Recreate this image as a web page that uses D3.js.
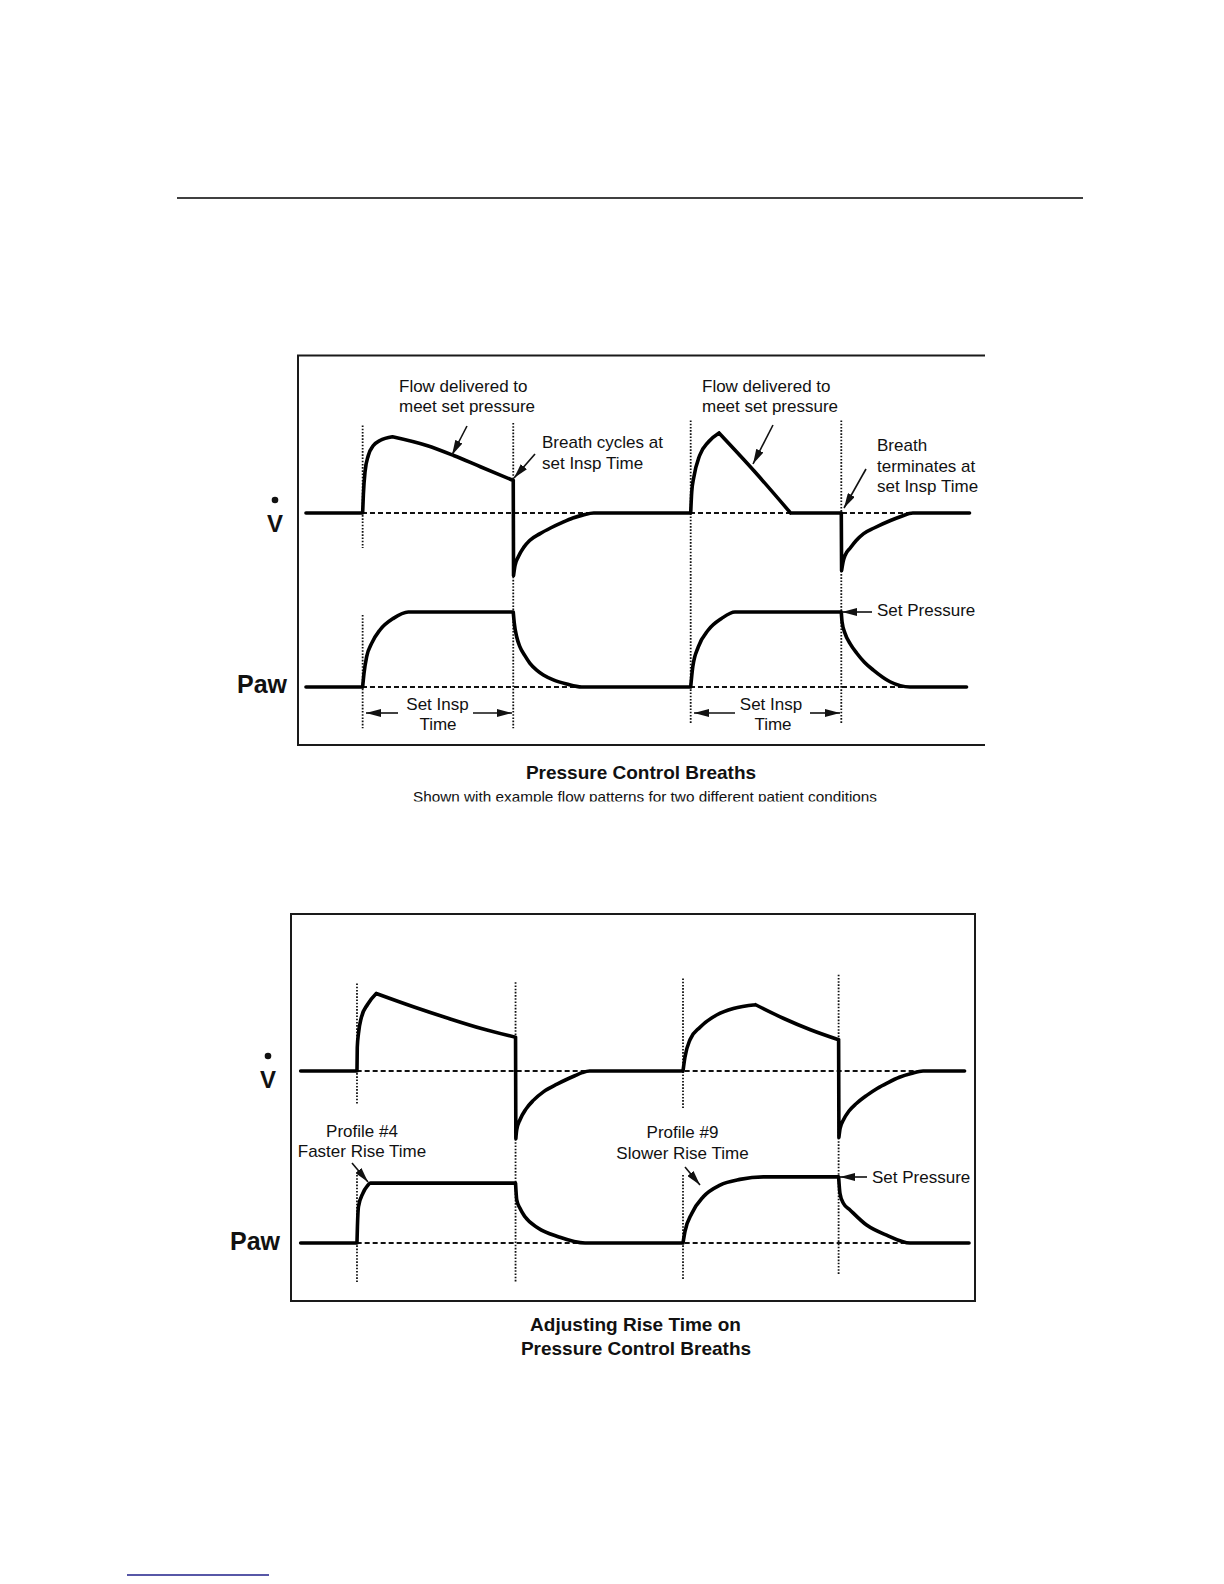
<!DOCTYPE html>
<html>
<head>
<meta charset="utf-8">
<script src="https://cdn.jsdelivr.net/npm/d3@7"></script>
<style>
body { margin: 0; background: #fff; }
svg { display: block; }
text { font-family: "Liberation Sans", Arial, sans-serif; fill: #111; }
.trace { fill: none; stroke: #000; stroke-width: 3.6; stroke-linejoin: round; stroke-linecap: round; }
.dash { stroke: #111; stroke-width: 1.8; stroke-dasharray: 5,3; }
.dot { stroke: #111; stroke-width: 1.8; stroke-dasharray: 1.6,1.6; }
.frame { stroke: #1a1a1a; stroke-width: 2; fill: none; }
.arrow { stroke: #111; stroke-width: 1.6; }
</style>
</head>
<body>
<div id="chart"></div>
<script>
/* Pressure control breath waveforms
   each trace is a list of pieces, a piece is a list of [time (s), value]
   flow in L/min, Paw in cmH2O
*/

// upper figure: two patient conditions
var topFlow = [
  [[0.02, 0], [0.40, 0]],
  [[0.40, 0], [0.405, 15], [0.416, 33], [0.438, 46], [0.472, 54], [0.516, 58], [0.60, 61]],
  [[0.60, 61], [0.83, 54], [1.01, 46], [1.19, 37], [1.41, 26]],
  [[1.41, 26], [1.412, -50]],
  [[1.412, -50], [1.422, -42], [1.444, -35], [1.48, -27.5], [1.52, -22], [1.59, -16.5], [1.66, -12],
   [1.74, -7.5], [1.81, -4], [1.88, -1.5], [1.95, 0], [2.60, 0]],
  [[2.60, 0], [2.607, 17], [2.62, 28], [2.66, 46], [2.72, 57], [2.79, 64]],
  [[2.79, 64], [3.03, 33], [3.27, 0]],
  [[3.27, 0], [3.61, 0]],
  [[3.61, 0], [3.612, -46]],
  [[3.612, -46], [3.624, -38], [3.635, -34], [3.67, -28], [3.71, -22], [3.76, -16.5], [3.83, -12],
   [3.94, -6], [4.01, -2.8], [4.09, 0], [4.47, 0]]
];
var topPaw = [
  [[0.02, 0], [0.40, 0]],
  [[0.40, 0], [0.409, 3.6], [0.427, 8.1], [0.461, 11.7], [0.516, 15.2], [0.606, 18.3], [0.706, 20], [1.41, 20]],
  [[1.41, 20], [1.417, 17], [1.433, 13.4], [1.455, 10.7], [1.489, 8.3], [1.522, 6.3], [1.567, 4.5],
   [1.612, 3.2], [1.679, 1.9], [1.768, 0.8], [1.869, 0], [2.60, 0]],
  [[2.60, 0], [2.614, 5.4], [2.651, 10.7], [2.718, 15.2], [2.808, 18.3], [2.897, 20], [3.61, 20]],
  [[3.61, 20], [3.615, 17.4], [3.635, 14.3], [3.67, 11.5], [3.714, 9], [3.765, 6.6], [3.825, 4.5],
   [3.937, 1.4], [4.071, 0], [4.45, 0]]
];
// breath start / end (set Insp Time) markers
var topGuides = [
  { t: 0.40, top: 70, gapFrom: -28, gapTo: 19.2, bottom: -11 },
  { t: 1.41, top: 72, bottom: -11 },
  { t: 2.60, top: 74, bottom: -9.6 },
  { t: 3.61, top: 74, bottom: -9.6 }
];

// lower figure: rise time profile #4 vs #9
var botFlow = [
  [[0.02, 0], [0.40, 0]],
  [[0.40, 0], [0.402, 19], [0.41, 30], [0.43, 43], [0.47, 53], [0.53, 62]],
  [[0.53, 62], [0.79, 51], [1.02, 42], [1.24, 34], [1.47, 27]],
  [[1.47, 27], [1.472, -54]],
  [[1.472, -54], [1.478, -47], [1.50, -39], [1.54, -30.5], [1.59, -23.5], [1.66, -16.5], [1.75, -10.5],
   [1.81, -7], [1.87, -3.8], [1.92, -1.3], [1.97, 0], [2.60, 0]],
  [[2.60, 0], [2.613, 11], [2.647, 25], [2.715, 35], [2.83, 45], [2.94, 50], [3.09, 53]],
  [[3.09, 53], [3.28, 42], [3.46, 33], [3.65, 25]],
  [[3.65, 25], [3.652, -53]],
  [[3.652, -53], [3.66, -46], [3.683, -39], [3.72, -32], [3.77, -26], [3.84, -19.5], [3.91, -14],
   [3.98, -9.5], [4.06, -5], [4.14, -2], [4.22, 0], [4.50, 0]]
];
var botPaw = [
  [[0.02, 0], [0.40, 0]],
  [[0.40, 0], [0.403, 5.2], [0.41, 11.5], [0.44, 15.8], [0.47, 18.1], [0.49, 19], [1.47, 19]],
  [[1.47, 19], [1.478, 13.7], [1.50, 11], [1.534, 8.3], [1.624, 4.7], [1.758, 2], [1.939, 0], [2.60, 0]],
  [[2.60, 0], [2.613, 3.6], [2.659, 9.4], [2.737, 14.7], [2.85, 18.4], [2.984, 20.2], [3.142, 21], [3.65, 21]],
  [[3.65, 21], [3.659, 15.8], [3.682, 12.6], [3.727, 10.5], [3.839, 5.7], [3.974, 2.5], [4.132, 0], [4.53, 0]]
];
var botGuides = [
  { t: 0.40, top: 70, gapFrom: -27, gapTo: 21.6, bottom: -12.4 },
  { t: 1.47, top: 71, bottom: -12.4 },
  { t: 2.60, top: 74, gapFrom: -30, gapTo: 21.6, bottom: -11.7 },
  { t: 3.65, top: 77, bottom: -10.2 }
];

var width = 1224, height = 1584;

var svg = d3.select('#chart').append('svg')
    .attr('width', width).attr('height', height);

var defs = svg.append('defs');
defs.append('marker')
    .attr('id', 'head')
    .attr('viewBox', '0 0 15 8')
    .attr('refX', 15).attr('refY', 4)
    .attr('markerWidth', 15).attr('markerHeight', 8)
    .attr('markerUnits', 'userSpaceOnUse')
    .attr('orient', 'auto')
  .append('path').attr('d', 'M0,0L15,4L0,8Z').attr('fill', '#111');

defs.append('clipPath').attr('id', 'cut')
  .append('rect').attr('x', 0).attr('y', 0).attr('width', width).attr('height', 801.5);

// page rules
svg.append('line').attr('x1', 177).attr('x2', 1083).attr('y1', 198).attr('y2', 198)
    .attr('stroke', '#000').attr('stroke-width', 1.5);
svg.append('line').attr('x1', 127).attr('x2', 269).attr('y1', 1575).attr('y2', 1575)
    .attr('stroke', '#1f1f8a').attr('stroke-width', 1.5);

function drawPanel(p)
{
    var g = svg.append('g');
    var x = p.x, flow = p.flow, paw = p.paw;

    g.selectAll('.frameline').data(p.frame).enter().append('line')
        .attr('class', 'frame')
        .attr('x1', function(d) { return d[0]; }).attr('y1', function(d) { return d[1]; })
        .attr('x2', function(d) { return d[2]; }).attr('y2', function(d) { return d[3]; });

    // zero lines
    g.append('line').attr('class', 'dash')
        .attr('x1', x(p.base[0])).attr('x2', x(p.base[1]))
        .attr('y1', flow(0)).attr('y2', flow(0));
    g.append('line').attr('class', 'dash')
        .attr('x1', x(p.base[0])).attr('x2', x(p.base[1]))
        .attr('y1', paw(0)).attr('y2', paw(0));

    // dotted timing lines
    p.guides.forEach(function(d) {
        if (d.gapFrom !== undefined) {
            g.append('line').attr('class', 'dot')
                .attr('x1', x(d.t)).attr('x2', x(d.t)).attr('y1', flow(d.top)).attr('y2', flow(d.gapFrom));
            g.append('line').attr('class', 'dot')
                .attr('x1', x(d.t)).attr('x2', x(d.t)).attr('y1', paw(d.gapTo)).attr('y2', paw(d.bottom));
        } else {
            g.append('line').attr('class', 'dot')
                .attr('x1', x(d.t)).attr('x2', x(d.t)).attr('y1', flow(d.top)).attr('y2', paw(d.bottom));
        }
    });

    var flowLine = d3.line()
        .x(function(d) { return x(d[0]); })
        .y(function(d) { return flow(d[1]); })
        .curve(d3.curveMonotoneX);
    var pawLine = d3.line()
        .x(function(d) { return x(d[0]); })
        .y(function(d) { return paw(d[1]); })
        .curve(d3.curveMonotoneX);

    g.append('path').attr('class', 'trace')
        .attr('d', p.flowData.map(flowLine).join(''));
    g.append('path').attr('class', 'trace')
        .attr('d', p.pawData.map(pawLine).join(''));

    // V-dot and Paw labels
    g.append('circle').attr('cx', p.vdot[0]).attr('cy', p.vdot[1] - 32).attr('r', 3.3).attr('fill', '#111');
    g.append('text').attr('x', p.vdot[0]).attr('y', p.vdot[1])
        .attr('text-anchor', 'middle').attr('font-weight', 'bold').attr('font-size', 24).text('V');
    g.append('text').attr('x', p.pawLabel[0]).attr('y', p.pawLabel[1])
        .attr('font-weight', 'bold').attr('font-size', 25).text('Paw');

    g.selectAll('.note').data(p.notes).enter().append('text')
        .attr('x', function(d) { return d.x; })
        .attr('y', function(d) { return d.y; })
        .attr('text-anchor', function(d) { return d.anchor || 'start'; })
        .attr('font-size', 17)
        .text(function(d) { return d.text; });

    g.selectAll('.arrow').data(p.arrows).enter().append('line')
        .attr('class', 'arrow')
        .attr('x1', function(d) { return d[0]; }).attr('y1', function(d) { return d[1]; })
        .attr('x2', function(d) { return d[2]; }).attr('y2', function(d) { return d[3]; })
        .attr('marker-end', 'url(#head)');
}

drawPanel({
    x: d3.scaleLinear().domain([0, 4.5]).range([303, 974]),
    flow: d3.scaleLinear().domain([-60, 60]).range([588, 438]),
    paw: d3.scaleLinear().domain([0, 20]).range([687, 612]),
    flowData: topFlow, pawData: topPaw, guides: topGuides,
    base: [0.02, 4.36],
    frame: [[297, 355.5, 985, 355.5], [298, 355.5, 298, 745], [297, 745, 985, 745]],
    vdot: [275, 532], pawLabel: [237, 693],
    notes: [
        { x: 399, y: 392, text: 'Flow delivered to' },
        { x: 399, y: 412, text: 'meet set pressure' },
        { x: 542, y: 448, text: 'Breath cycles at' },
        { x: 542, y: 469, text: 'set Insp Time' },
        { x: 702, y: 392, text: 'Flow delivered to' },
        { x: 702, y: 412, text: 'meet set pressure' },
        { x: 877, y: 451, text: 'Breath' },
        { x: 877, y: 472, text: 'terminates at' },
        { x: 877, y: 492, text: 'set Insp Time' },
        { x: 877, y: 616, text: 'Set Pressure' },
        { x: 437.5, y: 710, text: 'Set Insp', anchor: 'middle' },
        { x: 438, y: 730, text: 'Time', anchor: 'middle' },
        { x: 771, y: 710, text: 'Set Insp', anchor: 'middle' },
        { x: 773, y: 730, text: 'Time', anchor: 'middle' }
    ],
    arrows: [
        [467, 426, 452, 455], [535, 454, 514, 478], [773, 425, 753, 464], [866, 469, 844, 508],
        [872, 612, 842, 612],
        [398, 713, 366, 713], [473, 713, 512, 713], [735, 713, 694, 713], [810, 713, 840, 713]
    ]
});

drawPanel({
    x: d3.scaleLinear().domain([0, 4.6]).range([297.7, 979.4]),
    flow: d3.scaleLinear().domain([-60, 60]).range([1146, 996]),
    paw: d3.scaleLinear().domain([0, 20]).range([1243, 1180]),
    flowData: botFlow, pawData: botPaw, guides: botGuides,
    base: [0.02, 4.35],
    frame: [[290, 914, 976, 914], [291, 914, 291, 1301], [975, 914, 975, 1301], [290, 1301, 976, 1301]],
    vdot: [268, 1088], pawLabel: [230, 1250],
    notes: [
        { x: 362, y: 1137, text: 'Profile #4', anchor: 'middle' },
        { x: 362, y: 1157, text: 'Faster Rise Time', anchor: 'middle' },
        { x: 682.5, y: 1138, text: 'Profile #9', anchor: 'middle' },
        { x: 682.5, y: 1159, text: 'Slower Rise Time', anchor: 'middle' },
        { x: 872, y: 1183, text: 'Set Pressure' }
    ],
    arrows: [
        [352, 1163, 368, 1182], [685, 1167, 700, 1185], [867, 1177, 840, 1177]
    ]
});

// captions
svg.append('text').attr('x', 641).attr('y', 779).attr('text-anchor', 'middle')
    .attr('font-weight', 'bold').attr('font-size', 19).text('Pressure Control Breaths');
svg.append('text').attr('x', 645).attr('y', 802).attr('text-anchor', 'middle')
    .attr('font-size', 15.3).attr('clip-path', 'url(#cut)')
    .text('Shown with example flow patterns for two different patient conditions');
svg.append('text').attr('x', 635.5).attr('y', 1331).attr('text-anchor', 'middle')
    .attr('font-weight', 'bold').attr('font-size', 19).text('Adjusting Rise Time on');
svg.append('text').attr('x', 636).attr('y', 1355).attr('text-anchor', 'middle')
    .attr('font-weight', 'bold').attr('font-size', 19).text('Pressure Control Breaths');
</script>
</body>
</html>
